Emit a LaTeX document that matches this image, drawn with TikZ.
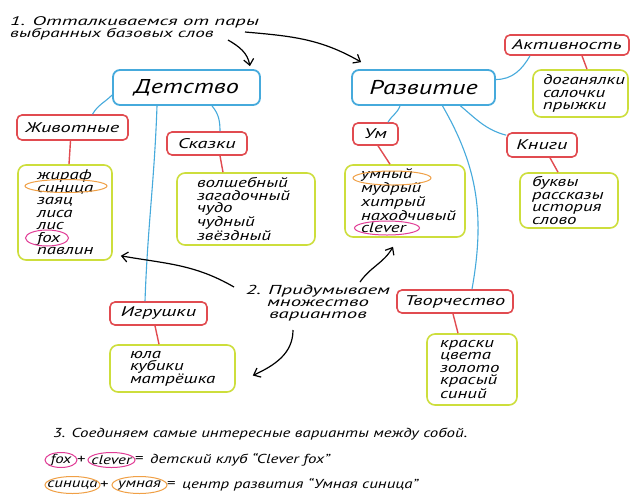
\documentclass[tikz,border=0pt]{standalone}
\usepackage{fontspec}
\setmainfont{PT Sans}
\newfontfamily\fHub{PT Sans}[FakeStretch=1.31]
\newfontfamily\fCat{PT Sans}[FakeStretch=1.45]
\newfontfamily\fMid{PT Sans}[FakeStretch=1.6]
\newfontfamily\fLst{PT Sans}[FakeStretch=1.35]
\newfontfamily\fTop{PT Sans}[FakeStretch=1.65]
\newfontfamily\fTopB{PT Sans}[FakeStretch=1.53]
\newfontfamily\fBot{PT Sans}[FakeStretch=1.30]
\usetikzlibrary{arrows.meta,shapes.geometric}
\hyphenpenalty=10000
\exhyphenpenalty=10000
\definecolor{blueC}{RGB}{70,170,220}
\definecolor{redC}{RGB}{225,75,80}
\definecolor{ylwC}{RGB}{205,222,60}
\definecolor{orangeC}{RGB}{240,160,70}
\definecolor{pinkC}{RGB}{225,60,150}
\begin{document}
\begin{tikzpicture}[x=1pt,y=-1pt,
  hub/.style={draw=blueC, line width=1.8pt, rounded corners=7pt, inner sep=0pt, font=\fontsize{20}{22}\fHub\itshape},
  cat/.style={draw=redC, line width=1.6pt, rounded corners=5pt, inner sep=0pt, font=\fontsize{14}{15}\fCat\itshape},
  lst/.style={draw=ylwC, line width=1.6pt, rounded corners=8pt, align=left, inner ysep=0pt, font=\fontsize{14}{12.5}\fLst\itshape},
  blueln/.style={draw=blueC, line width=1.1pt},
  redln/.style={draw=redC, line width=1.4pt},
  topnote/.style={inner sep=0pt, font=\fontsize{12.5}{12}\fTop\itshape},
  topnoteb/.style={inner sep=0pt, font=\fontsize{12.5}{12}\fTopB\itshape},
  midnote/.style={inner sep=0pt, font=\fontsize{13}{12}\fMid\itshape},
  note/.style={inner sep=0pt, font=\fontsize{13}{12}\fBot\itshape},
  arr/.style={-{Straight Barb[length=6pt,width=10pt]}, line width=1.2pt},
  ell/.style={ellipse, line width=1pt, inner sep=0pt},
  oell/.style={ell, draw=orangeC},
  pell/.style={ell, draw=pinkC}]
\useasboundingbox[fill=white] (0,0) rectangle (631,496);

% hubs
\node[hub, minimum width=147pt, minimum height=35pt] (det) at (186.5,87.5) {Детство};
\node[hub, minimum width=143pt, minimum height=35pt] (raz) at (423.5,87.5) {Развитие};

% categories
\node[cat, minimum width=124pt, minimum height=20pt] (act) at (567,45) {Активность};
\node[cat, minimum width=111pt, minimum height=25pt] (anim) at (72.5,127.5) {Животные};
\node[cat, minimum width=80pt, minimum height=23pt] (tale) at (207,143.5) {Сказки};
\node[cat, minimum width=45pt, minimum height=22pt] (um) at (375.5,134) {Ум};
\node[cat, minimum width=70pt, minimum height=24pt] (book) at (542,145) {Книги};
\node[cat, minimum width=97pt, minimum height=23pt] (toy) at (158.5,313.5) {Игрушки};
\node[cat, minimum width=116pt, minimum height=23pt] (cre) at (455,301.5) {Творчество};

% lists
\node[lst, minimum height=47pt, inner xsep=10pt, text width=75pt] (actl) at (580.5,93.5) {доганялки\\салочки\\прыжки};
\node[lst, minimum height=95pt, inner xsep=19pt, text width=56pt] (animl) at (65,212.5) {жираф\\синица\\заяц\\лиса\\лис\\fox\\павлин};
\node[lst, minimum height=72pt, inner xsep=20pt, text width=98pt] (talel) at (246,209) {волшебный\\загадочный\\чудо\\чудный\\звёздный};
\node[lst, minimum height=72pt, inner xsep=16pt, text width=88pt] (uml) at (405,201) {умный\\мудрый\\хитрый\\находчивый\\clever};
\node[lst, minimum height=55pt, inner xsep=12pt, text width=74pt] (bookl) at (569,200.5) {буквы\\рассказы\\история\\слово};
\node[lst, minimum height=47pt, inner xsep=20pt, text width=85pt] (toyl) at (172.5,368.5) {юла\\кубики\\матрёшка};
\node[lst, minimum height=71pt, inner xsep=13pt, text width=64pt] (crel) at (472,369.5) {краски\\цвета\\золото\\красый\\синий};

% highlight ellipses in lists
\node[oell, minimum width=82pt, minimum height=13pt] (e1) at (66,186) {};
\node[pell, minimum width=43pt, minimum height=16pt] (e2) at (47,238) {};
\node[oell, minimum width=78pt, minimum height=14pt] (e3) at (392,178) {};
\node[pell, minimum width=65pt, minimum height=14pt] (e4) at (387,228) {};

% blue connectors
\draw[blueln] ([yshift=-7.5pt]det.west) to[out=-135,in=60] ([xshift=20pt]anim.north);
\draw[blueln] ([xshift=-29.5pt]det.south) to[out=-92,in=88] ([xshift=-13.5pt]toy.north);
\draw[blueln] ([xshift=25.5pt]det.south) to[out=-50,in=90] ([xshift=13pt]tale.north);
\draw[blueln] ([xshift=-23.5pt]raz.south) to[out=-110,in=60] ([xshift=12.5pt]um.north);
\draw[blueln] ([xshift=19pt]raz.south) to[out=-60,in=80] ([xshift=17pt]cre.north);
\draw[blueln] ([xshift=37pt]raz.south) to[out=-40,in=165] ([yshift=-3pt]book.north west);
\draw[blueln] ([yshift=8pt]raz.east) to[out=0,in=-120] ([xshift=-37pt]act.south);

% red connectors
\draw[redln] ([xshift=-2pt]anim.south) -- ([xshift=4pt]animl.north);
\draw[redln] ([xshift=13pt]tale.south) -- ([xshift=-23pt]talel.north);
\draw[redln] ([xshift=2.5pt]um.south) -- ([xshift=-15pt]uml.north);
\draw[redln] ([xshift=8pt]book.south) -- ([xshift=-11pt]bookl.north);
\draw[redln] ([xshift=-3.5pt]toy.south) -- ([xshift=-13.5pt]toyl.north);
\draw[redln] ([xshift=-2pt]cre.south) -- ([xshift=-14pt]crel.north);
\draw[redln] ([xshift=15pt]act.south) -- ([xshift=6.5pt]actl.north);

% notes
\node[topnote, anchor=base west] (n1a) at (10,25) {1. Отталкиваемся от пары};
\node[topnoteb, anchor=base west] (n1b) at (10,37) {выбранных базовых слов};
\coordinate (a1s) at (228,40);
\coordinate (a2s) at (245,32);
\draw[arr] (a1s) to[out=-30,in=100] ([xshift=-11pt,yshift=3pt]det.north east);
\draw[arr] (a2s) to[out=-5,in=150] ([xshift=10pt,yshift=7pt]raz.north west);

\node[midnote, align=center] (n2) at (318,303) {2. Придумываем\\множество\\вариантов};
\coordinate (b1s) at (234,287);
\coordinate (b2s) at (360,282);
\coordinate (b3s) at (293,330);
\draw[arr] (b1s) to[out=150,in=-10] ([xshift=8pt,yshift=5pt]animl.south east);
\draw[arr] (b2s) to[out=55,in=-120] ([xshift=-12pt,yshift=-9pt]uml.south);
\draw[arr] (b3s) to[out=-90,in=25] ([xshift=17pt,yshift=-7pt]toyl.east);

% bottom lines
\node[note, anchor=west] (n3) at (53,434) {3. Соединяем самые интересные варианты между собой.};
\node[note] (bfox) at (61,460) {fox};
\node[pell, minimum width=32pt, minimum height=15pt] (bfoxE) at (bfox.center) {};
\node[note] (p1) at (81,460) {+};
\node[note] (bclev) at (111.5,460) {clever};
\node[pell, minimum width=47pt, minimum height=15pt] (bclevE) at (bclev.center) {};
\node[note] (q1) at (139,460) {=};
\node[note, anchor=west] (r1) at (150,460) {детский клуб “Clever fox”};
\node[note] (bsin) at (72.5,485) {синица};
\node[oell, minimum width=55pt, minimum height=17pt] (bsinE) at (bsin.center) {};
\node[note] (p2) at (104,485) {+};
\node[note] (bumn) at (139.5,485) {умная};
\node[oell, minimum width=55pt, minimum height=17pt] (bumnE) at (bumn.center) {};
\node[note] (q2) at (171,485) {=};
\node[note, anchor=west] (r2) at (182,485) {центр развития “Умная синица”};
\end{tikzpicture}
\end{document}
